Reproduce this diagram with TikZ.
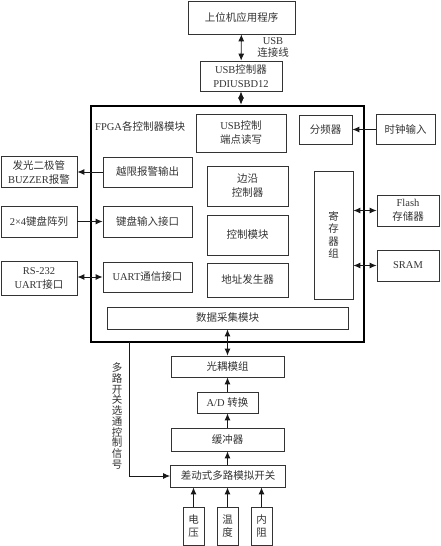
\documentclass[tikz,border=0pt]{standalone}
\usepackage{fontspec}
\setmainfont{Liberation Serif}
\newfontfamily\cjk{Noto Sans CJK SC}
\usetikzlibrary{arrows.meta}

\tikzset{
  blk/.style={draw=black!80,line width=0.8pt,inner sep=0pt,align=center,
    text=black!80,font=\fontsize{10.5}{14}\selectfont},
  lbl/.style={inner sep=0pt,align=center,text=black!80,
    font=\fontsize{10.5}{12}\selectfont},
  conn/.style={line width=0.9pt,draw=black!90},
}

\begin{document}
\begin{tikzpicture}[x=1pt,y=-1pt,>={Latex[length=7pt,width=6pt]}]
\useasboundingbox (0,0) rectangle (441,546);
% PC and USB chip
\node[blk,minimum width=107pt,minimum height=33pt] (host) at (241.5,17.5) {\cjk 上位机应用程序};
\node[blk,minimum width=82pt,minimum height=30pt] (usbctl) at (241,76) {USB{\cjk 控制器}\\PDIUSBD12};
\node[lbl] (usbline) at (273,47) {USB\\{\cjk 连接线}};
\draw[conn,<->] (host) -- (usbctl);

% FPGA frame
\node[draw=black,line width=2.6pt,minimum width=273pt,minimum height=236pt,inner sep=0pt] (fpga) at (227.5,224) {};
\node[lbl,anchor=west] (fpgalbl) at (95,126) {FPGA{\cjk 各控制器模块}};
\draw[conn,<->] (usbctl) -- (usbctl.south |- fpga.north);

% inner modules
\node[blk,minimum width=90pt,minimum height=38pt] (usbrw) at (241,133) {USB{\cjk 控制}\\{\cjk 端点读写}};
\node[blk,minimum width=53pt,minimum height=29pt] (divider) at (325.5,129.5) {\cjk 分频器};
\node[blk,minimum width=89pt,minimum height=30pt] (alarm) at (147.5,172) {\cjk 越限报警输出};
\node[blk,minimum width=89pt,minimum height=31pt] (keyif) at (147.5,221.5) {\cjk 键盘输入接口};
\node[blk,minimum width=89pt,minimum height=30pt] (uartif) at (147.5,277) {UART{\cjk 通信接口}};
\node[blk,minimum width=81pt,minimum height=40pt] (edge) at (247.5,186) {\cjk 边沿\\\cjk 控制器};
\node[blk,minimum width=81pt,minimum height=40pt] (ctrl) at (247.5,235) {\cjk 控制模块};
\node[blk,minimum width=81pt,minimum height=34pt] (addr) at (247.5,280) {\cjk 地址发生器};
\node[blk,minimum width=39pt,minimum height=128pt,font=\cjk\fontsize{10.5}{12.5}\selectfont] (regs) at (333.5,235) {寄\\存\\器\\组};
\node[blk,minimum width=241pt,minimum height=22pt] (daq) at (227.5,318) {\cjk 数据采集模块};

% outside devices
\node[blk,minimum width=59pt,minimum height=30pt] (clock) at (405.5,129.5) {\cjk 时钟输入};
\node[blk,minimum width=76pt,minimum height=31pt] (buzzer) at (39,172) {{\cjk 发光二极管}\\BUZZER{\cjk 报警}};
\node[blk,minimum width=76pt,minimum height=31pt] (keypad) at (39,221.5) {2×4{\cjk 键盘阵列}};
\node[blk,minimum width=76pt,minimum height=34pt] (rs232) at (39,278) {RS-232\\UART{\cjk 接口}};
\node[blk,minimum width=62pt,minimum height=31pt] (flash) at (408,210.5) {Flash\\{\cjk 存储器}};
\node[blk,minimum width=62pt,minimum height=31pt] (sram) at (408,265.5) {SRAM};

\draw[conn,->] (clock) -- (divider);
\draw[conn,->] (alarm) -- (buzzer);
\draw[conn,->] (keypad) -- (keyif);
\draw[conn,<->] (uartif.west -| rs232.east) -- (uartif.west);
\draw[conn,<->] (regs.east |- flash.west) -- (flash.west);
\draw[conn,<->] (regs.east |- sram.west) -- (sram.west);

% acquisition chain
\node[blk,minimum width=113pt,minimum height=21pt] (optic) at (227.5,366.5) {\cjk 光耦模组};
\node[blk,minimum width=61pt,minimum height=21pt] (adc) at (227.5,402.5) {A/D {\cjk 转换}};
\node[blk,minimum width=113pt,minimum height=23pt] (buffer) at (227.5,439.5) {\cjk 缓冲器};
\node[blk,minimum width=115pt,minimum height=22pt] (mux) at (228,476) {\cjk 差动式多路模拟开关};
\node[blk,minimum width=21pt,minimum height=38pt,font=\cjk\fontsize{10.5}{13}\selectfont] (volt) at (193.5,526) {电\\压};
\node[blk,minimum width=21pt,minimum height=38pt,font=\cjk\fontsize{10.5}{13}\selectfont] (temp) at (227.5,526) {温\\度};
\node[blk,minimum width=21pt,minimum height=38pt,font=\cjk\fontsize{10.5}{13}\selectfont] (resist) at (261.5,526) {内\\阻};

\draw[conn,<->] (daq) -- (optic);
\draw[conn,->] (adc) -- (optic);
\draw[conn,->] (buffer) -- (adc);
\draw[conn,->] (mux.north -| buffer.south) -- (buffer);
\foreach \s in {volt,temp,resist}
  \draw[conn,->] (\s) -- (\s |- mux.south);

% switch select line
\coordinate (selsrc) at (129,342);
\draw[conn,->] (selsrc) |- (mux.west);
\node[lbl,font=\cjk\fontsize{10.5}{10.7}\selectfont] (sellbl) at (117,416) {多\\路\\开\\关\\选\\通\\控\\制\\信\\号};
\end{tikzpicture}
\end{document}
